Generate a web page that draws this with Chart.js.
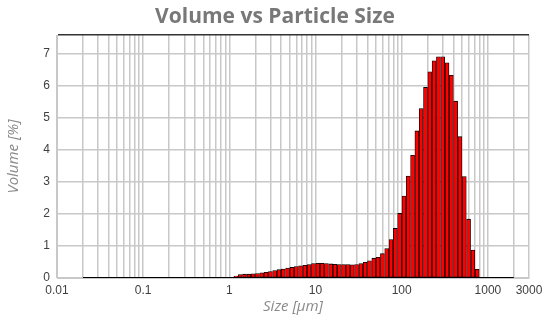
<!DOCTYPE html>
<html>
<head>
<meta charset="utf-8">
<script src="https://cdn.jsdelivr.net/npm/chart.js@4"></script>
<style>
  html, body { margin: 0; padding: 0; background: #fff; }
</style>
</head>
<body>
<canvas id="psdChart" width="550" height="325"></canvas>
<script>
// size classes (bin centres, µm) that carry volume
const sizes = [
  1.0618, 1.1914, 1.3367, 1.4998, 1.6829, 1.8882, 2.1186, 2.3771, 2.6672, 2.9926,
  3.3577, 3.7674, 4.2271, 4.7429, 5.3216, 5.9709, 6.6995, 7.5170, 8.4342, 9.4633,
  10.618, 11.914, 13.367, 14.998, 16.829, 18.882, 21.186, 23.771, 26.672, 29.926,
  33.577, 37.674, 42.271, 47.429, 53.216, 59.709, 66.995, 75.170, 84.342, 94.633,
  106.18, 119.14, 133.67, 149.98, 168.29, 188.82, 211.86, 237.71, 266.72, 299.26,
  335.77, 376.74, 422.71, 474.29, 532.16, 597.09, 669.95, 751.70
];

// volume in % for each size class
const volumes = [
  0.02, 0.06, 0.11, 0.12, 0.12, 0.13, 0.14, 0.16, 0.18, 0.20,
  0.23, 0.26, 0.28, 0.31, 0.33, 0.36, 0.38, 0.40, 0.42, 0.45,
  0.46, 0.46, 0.45, 0.44, 0.43, 0.42, 0.42, 0.42, 0.41, 0.42,
  0.45, 0.49, 0.54, 0.62, 0.65, 0.76, 0.92, 1.20, 1.55, 2.02,
  2.56, 3.19, 3.84, 4.60, 5.30, 5.96, 6.45, 6.79, 6.92, 6.92,
  6.73, 6.34, 5.53, 4.42, 3.17, 1.84, 0.875, 0.27
];

// full measuring range of the instrument (zero outside the bars above)
const rangeSizes = [0.02, 2000];

// axis ticks
const xLabels = [0.01, 0.1, 1, 10, 100, 1000, 3000];
const yTicks = [0, 1, 2, 3, 4, 5, 6, 7];
const yMax = 7.6;

// vertical grid: 1..9 in every decade, then 1000, 2000, 3000
const xGrid = [];
[0.01, 0.1, 1, 10, 100].forEach((d) => {
  for (let m = 1; m <= 9; m++) xGrid.push(Number((m * d).toPrecision(3)));
});
xGrid.push(1000, 2000, 3000);

const ctx = document.getElementById("psdChart");

new Chart(ctx, {
  type: "bar",
  data: {
    datasets: [
      {
        type: "line",
        data: rangeSizes.map((s) => ({ x: s, y: 0 })),
        borderColor: "#000",
        borderWidth: 2,
        pointRadius: 0,
        order: 0,
      },
      {
        data: sizes.map((s, i) => ({ x: s, y: volumes[i] })),
        backgroundColor: "#ff0000",
        borderColor: "#000",
        borderWidth: 0.8,
        borderSkipped: false,
        barPercentage: 1,
        categoryPercentage: 1,
        order: 1,
      },
    ],
  },
  options: {
    responsive: false,
    animation: false,
    layout: { padding: 0 },
    plugins: {
      legend: { display: false },
      tooltip: { enabled: false },
      title: {
        display: true,
        text: "Volume vs Particle Size",
        color: "#787878",
        font: { family: "'Open Sans', sans-serif", size: 21, weight: "bold" },
        padding: { top: 4, bottom: 5.8 },
      },
    },
    scales: {
      x: {
        type: "logarithmic",
        min: 0.01,
        max: 3000,
        offset: false,
        afterBuildTicks: (scale) => {
          scale.ticks = xGrid.map((v) => ({ value: v }));
        },
        afterFit: (scale) => {
          scale.height = 47;
        },
        ticks: {
          autoSkip: false,
          maxRotation: 0,
          padding: 5,
          color: "#404040",
          font: { family: "Arial", size: 12 },
          callback: (value) => (xLabels.includes(value) ? String(value) : ""),
        },
        grid: { color: "#c8c8c8", lineWidth: 1.5, drawTicks: false, offset: false },
        border: { color: "#c8c8c8" },
        title: {
          display: true,
          text: "Size [µm]",
          color: "#8a8a8a",
          font: { family: "'Open Sans', sans-serif", size: 15, style: "italic" },
          padding: { top: 0, bottom: 9 },
        },
      },
      y: {
        min: 0,
        max: yMax,
        afterBuildTicks: (scale) => {
          scale.ticks = yTicks.concat([yMax]).map((v) => ({ value: v }));
        },
        afterFit: (scale) => {
          scale.width = 57;
        },
        ticks: {
          padding: 7,
          color: "#404040",
          font: { family: "Arial", size: 12 },
          callback: (value) => (yTicks.includes(value) ? String(value) : ""),
        },
        grid: {
          color: (c) => (c.tick && c.tick.value === yMax ? "#333" : "#c8c8c8"),
          lineWidth: 1.5,
          drawTicks: false,
        },
        border: { color: "#c8c8c8" },
        title: {
          display: true,
          text: "Volume [%]",
          color: "#8a8a8a",
          font: { family: "'Open Sans', sans-serif", size: 15, style: "italic" },
          padding: { top: 5, bottom: 0 },
        },
      },
      // empty right margin so the title stays centred on the page
      yRight: {
        position: "right",
        grid: { display: false },
        ticks: { display: false },
        border: { display: false },
        afterFit: (scale) => {
          scale.width = 21;
        },
      },
    },
  },
});
</script>
</body>
</html>
